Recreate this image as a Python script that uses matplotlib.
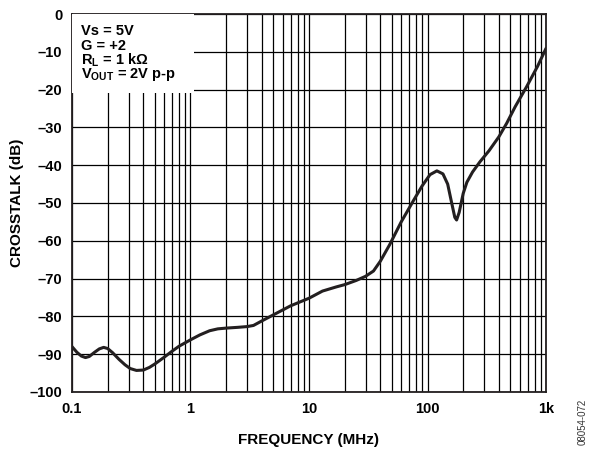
import matplotlib
matplotlib.use("Agg")
import matplotlib.pyplot as plt
from matplotlib.patches import Rectangle
from matplotlib.ticker import FixedLocator, LogLocator, NullFormatter

plt.rcParams['font.family'] = ['Liberation Sans', 'DejaVu Sans']
plt.rcParams['mathtext.fontset'] = 'custom'
plt.rcParams['mathtext.rm'] = 'Liberation Sans'
plt.rcParams['mathtext.bf'] = 'Liberation Sans:bold'

# crosstalk curve
freq_mhz = [0.1, 0.11, 0.12, 0.13, 0.14, 0.155, 0.17, 0.185, 0.2, 0.22,
            0.25, 0.28, 0.31, 0.35, 0.4, 0.45, 0.5, 0.6, 0.7, 0.8,
            1.0, 1.2, 1.45, 1.7, 2.0, 2.5, 3.0, 3.4, 4.0, 5.0,
            7.0, 10, 13, 17, 20, 25, 30, 35, 40, 48,
            60, 76, 90, 105, 120, 135, 148, 160, 170, 176,
            185, 200, 215, 240, 277, 330, 400, 466, 550, 687,
            850, 1000]
crosstalk_db = [-88.0, -89.5, -90.5, -90.9, -90.6, -89.5, -88.6, -88.2, -88.5, -89.6,
                -91.4, -92.8, -93.8, -94.3, -94.2, -93.5, -92.6, -90.8, -89.2, -87.9,
                -86.2, -84.9, -83.8, -83.3, -83.1, -82.9, -82.7, -82.4, -81.2, -79.6,
                -77.2, -75.2, -73.3, -72.2, -71.6, -70.5, -69.4, -68.0, -65.4, -61.0,
                -55.0, -49.4, -45.5, -42.5, -41.5, -42.3, -45.0, -50.0, -53.8, -54.5,
                -52.5, -47.5, -44.5, -41.8, -39.1, -36.2, -32.5, -28.9, -24.5, -19.2,
                -13.8, -9.1]

x_ticks = [0.1, 1, 10, 100, 1000]
x_labels = ["0.1", "1", "10", "100", "1k"]
y_ticks = list(range(-100, 1, 10))
y_labels = [("\u2013" + str(-v)) if v < 0 else "0" for v in y_ticks]

notes = ["Vs = 5V", "G = +2", "R$_\\mathbf{L}$ = 1 k\u03a9", "V$_\\mathbf{OUT}$ = 2V p-p"]

fig = plt.figure(figsize=(5.94, 4.49), dpi=100)
ax = fig.add_axes([0.1212, 0.127, 0.7980, 0.8418])

ax.plot(freq_mhz, crosstalk_db, color="#231f20", lw=2.2, zorder=5,
        solid_capstyle="round", solid_joinstyle="round")

ax.set_xscale("log")
ax.set_xlim(0.1, 1000)
ax.set_ylim(-100, 0)
ax.xaxis.set_major_locator(FixedLocator(x_ticks))
ax.set_xticklabels(x_labels)
ax.xaxis.set_minor_locator(LogLocator(base=10, subs=range(2, 10)))
ax.xaxis.set_minor_formatter(NullFormatter())
ax.set_yticks(y_ticks)
ax.set_yticklabels(y_labels)

ax.grid(True, which="both", color="black", lw=0.9, zorder=1)
ax.set_axisbelow(True)
ax.tick_params(which="both", length=0)
ax.tick_params(axis="x", pad=7, labelsize=10.5)
ax.tick_params(axis="y", pad=7, labelsize=10.5)
for lbl in ax.get_xticklabels() + ax.get_yticklabels():
    lbl.set_fontweight("bold")
for sp in ax.spines.values():
    sp.set_linewidth(1.3)
    sp.set_color("#231f20")

ax.set_xlabel("FREQUENCY (MHz)", fontsize=11, fontweight="bold", va="center")
ax.xaxis.set_label_coords(0.5, -0.127)
ax.set_ylabel("CROSSTALK (dB)", fontsize=11, fontweight="bold", va="center")
ax.yaxis.set_label_coords(-0.115, 0.5)

# white box behind the conditions text
ax.add_patch(Rectangle((0, 0.791), 0.257, 0.209, transform=ax.transAxes,
                       facecolor="white", edgecolor="none", zorder=3))
line_y = [0.944, 0.906, 0.868, 0.830]
for s, yy in zip(notes, line_y):
    ax.text(0.020, yy, s, transform=ax.transAxes, fontsize=10.5,
            fontweight="bold", va="baseline", ha="left", zorder=6)

fig.text(0.981, 0.06, "08054-072", rotation=90, fontsize=7, color="#333333",
         ha="center", va="center")

fig.savefig("out.png", dpi=100)
